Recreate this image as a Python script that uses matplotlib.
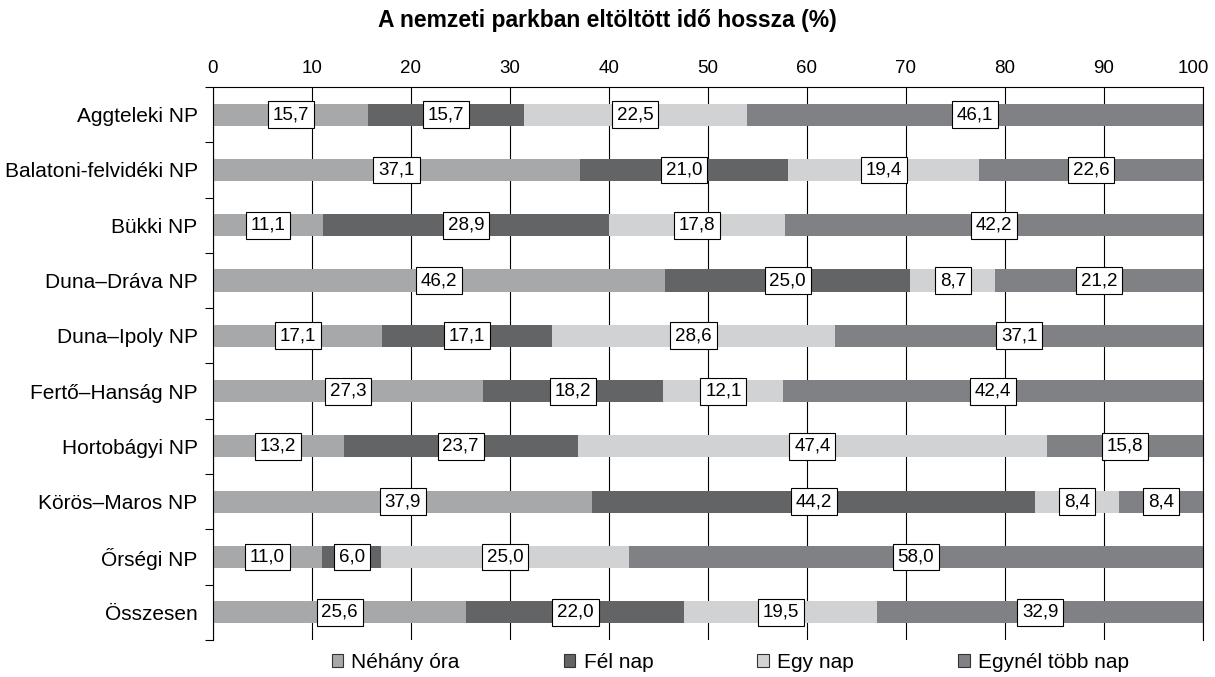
import numpy as np
import matplotlib.pyplot as plt
from matplotlib.patches import Patch
from matplotlib.transforms import ScaledTranslation

plt.rcParams['font.family'] = ['Liberation Sans', 'DejaVu Sans']

parks = ["Aggteleki NP", "Balatoni-felvidéki NP", "Bükki NP", "Duna–Dráva NP",
         "Duna–Ipoly NP", "Fertő–Hanság NP", "Hortobágyi NP", "Körös–Maros NP",
         "Őrségi NP", "Összesen"]
neh_ora = [15.7, 37.1, 11.1, 46.2, 17.1, 27.3, 13.2, 37.9, 11.0, 25.6]
fel_nap = [15.7, 21.0, 28.9, 25.0, 17.1, 18.2, 23.7, 44.2, 6.0, 22.0]
egy_nap = [22.5, 19.4, 17.8, 8.7, 28.6, 12.1, 47.4, 8.4, 25.0, 19.5]
tobb_nap = [46.1, 22.6, 42.2, 21.2, 37.1, 42.4, 15.8, 8.4, 58.0, 32.9]
series = ["Néhány óra", "Fél nap", "Egy nap", "Egynél több nap"]
colors = ["#a7a8aa", "#636466", "#d1d2d4", "#808184"]

vals = np.array([neh_ora, fel_nap, egy_nap, tobb_nap])
# bars are shown as 100% stacked, labels keep the original values
share = vals / vals.sum(axis=0) * 100

fig = plt.figure(figsize=(12.15, 6.77), dpi=100)
ax = fig.add_axes([0.1753, 0.0547, 0.8148, 0.8168])

y = np.arange(len(parks))
left = np.zeros(len(parks))
for i in range(4):
    ax.barh(y, share[i], left=left, height=0.4, color=colors[i], zorder=2)
    for j in range(len(parks)):
        ax.text(left[j] + share[i][j] / 2, y[j], f"{vals[i][j]:.1f}".replace(".", ","),
                ha="center", va="center", fontsize=13.5, zorder=4,
                bbox=dict(boxstyle="square,pad=0.26", fc="white", ec="black", lw=0.8))
    left += share[i]

ax.set_xlim(0, 100)
ax.set_ylim(len(parks) - 0.5, -0.5)
ax.xaxis.tick_top()
ax.set_xticks(range(0, 101, 10))
ax.tick_params(axis="x", labelsize=13.5, length=0, pad=7)
ax.set_yticks(y)
ax.set_yticklabels(parks, fontsize=15)
ax.set_yticks(np.arange(-0.5, len(parks)), minor=True)
ax.tick_params(axis="y", which="major", length=0, pad=11)
ax.tick_params(axis="y", which="minor", length=6, width=0.8)
ax.grid(axis="x", color="black", lw=0.8, zorder=1)
ax.set_axisbelow(True)
for s in ["top", "left", "right"]:
    ax.spines[s].set_linewidth(0.8)
ax.spines["bottom"].set_visible(False)

# keep "100" inside the figure like the original
last = ax.get_xticklabels()[-1]
last.set_transform(last.get_transform() + ScaledTranslation(-0.1, 0, fig.dpi_scale_trans))

fig.text(0.5, 0.970, "A nemzeti parkban eltöltött idő hossza (%)", ha="center", va="center",
         fontsize=16.5, fontweight="bold")

handles = [Patch(facecolor=c, edgecolor="#333333", lw=0.8) for c in colors]
fig.legend(handles, series, loc="center", bbox_to_anchor=(0.601, 0.022),
           ncol=4, frameon=False, fontsize=15, columnspacing=5.0,
           handlelength=0.55, handleheight=0.55, handletextpad=0.4)

fig.savefig("out.png", dpi=100)
